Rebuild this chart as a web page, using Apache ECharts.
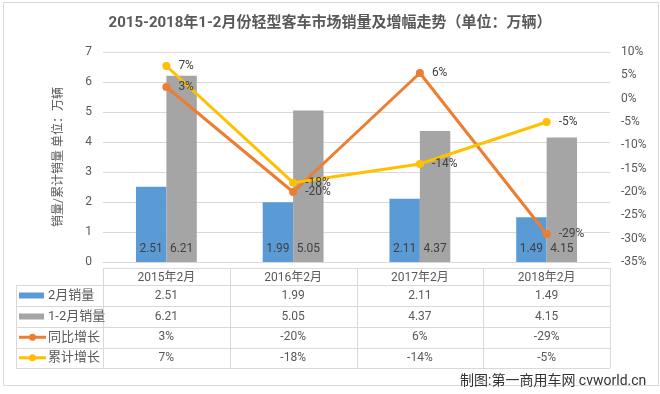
<!DOCTYPE html>
<html><head><meta charset="utf-8">
<script src="https://cdn.jsdelivr.net/npm/echarts@6/dist/echarts.min.js"></script>
<style>html,body{margin:0;padding:0;background:#fff}#c{width:660px;height:394px}</style>
</head><body><div id="c"></div>
<script>
const titleText = '2015-2018年1-2月份轻型客车市场销量及增幅走势（单位：万辆）';
const categories = ['2015年2月', '2016年2月', '2017年2月', '2018年2月'];
const febSales = [2.51, 1.99, 2.11, 1.49];
const cumSales = [6.21, 5.05, 4.37, 4.15];
const yoyGrowth = [2.5, -20, 5.5, -29];
const cumGrowth = [7, -18, -14, -5];
const seriesNames = ['2月销量', '1-2月销量', '同比增长', '累计增长'];
const leftAxisName = '销量/累计销量 单位：万辆';
const creditText = '制图:第一商用车网 cvworld.cn';

const FF = "Roboto, 'Noto Sans CJK SC', sans-serif";
const TXT = '#595959';
const C_BLUE = '#5B9BD5', C_GRAY = '#A5A5A5', C_ORANGE = '#ED7D31', C_YELLOW = '#FFC000';
const LINE = '#D9D9D9';

const G_L = 103, G_R = 610, G_T = 52, G_B = 262;
const colW = (G_R - G_L) / categories.length;
const rowY = [268, 285, 306, 327, 347.5, 368];
const TL = 16;

const pct = v => Math.round(v) + '%';
const rows = [
  {name: seriesNames[0], vals: febSales.map(v => v.toFixed(2)), type: 'bar', color: C_BLUE},
  {name: seriesNames[1], vals: cumSales.map(v => v.toFixed(2)), type: 'bar', color: C_GRAY},
  {name: seriesNames[2], vals: yoyGrowth.map(pct), type: 'line', color: C_ORANGE},
  {name: seriesNames[3], vals: cumGrowth.map(pct), type: 'line', color: C_YELLOW}
];

const graphics = [];
// chart border
graphics.push({type: 'rect', shape: {x: 3.5, y: 2.5, width: 655, height: 383}, style: {fill: null, stroke: LINE, lineWidth: 1}, z: -1});
// table lines
graphics.push({type: 'line', shape: {x1: G_L, y1: rowY[0] + 0.5, x2: G_R, y2: rowY[0] + 0.5}, style: {stroke: LINE, lineWidth: 1}});
for (let r = 1; r < rowY.length; r++) {
  graphics.push({type: 'line', shape: {x1: TL, y1: Math.round(rowY[r]) + 0.5, x2: G_R, y2: Math.round(rowY[r]) + 0.5}, style: {stroke: LINE, lineWidth: 1}});
}
graphics.push({type: 'line', shape: {x1: TL + 0.5, y1: rowY[1], x2: TL + 0.5, y2: rowY[5]}, style: {stroke: LINE, lineWidth: 1}});
for (let c = 0; c <= categories.length; c++) {
  const x = Math.round(G_L + c * colW) + 0.5;
  graphics.push({type: 'line', shape: {x1: x, y1: rowY[0], x2: x, y2: rowY[5]}, style: {stroke: LINE, lineWidth: 1}});
}
// header
categories.forEach((cat, i) => {
  graphics.push({type: 'text', x: G_L + (i + 0.5) * colW, y: (rowY[0] + rowY[1]) / 2 + 1,
    style: {text: cat, fill: TXT, font: '12px ' + FF, align: 'center', verticalAlign: 'middle'}});
});
// rows
rows.forEach((row, r) => {
  const yc = (rowY[r + 1] + rowY[r + 2]) / 2;
  if (row.type === 'bar') {
    graphics.push({type: 'rect', shape: {x: 19, y: yc - 3, width: 25, height: 6}, style: {fill: row.color}});
  } else {
    graphics.push({type: 'line', shape: {x1: 19, y1: yc, x2: 46, y2: yc}, style: {stroke: row.color, lineWidth: 3}});
    graphics.push({type: 'circle', shape: {cx: 32.5, cy: yc, r: 3.5}, style: {fill: row.color}});
  }
  graphics.push({type: 'text', x: 48, y: yc, style: {text: row.name, fill: TXT, font: '13px ' + FF, verticalAlign: 'middle'}});
  row.vals.forEach((v, i) => {
    graphics.push({type: 'text', x: G_L + (i + 0.5) * colW, y: yc, style: {text: v, fill: TXT, font: '12px ' + FF, align: 'center', verticalAlign: 'middle'}});
  });
});
graphics.push({type: 'text', x: 460, y: 381, style: {text: creditText, fill: '#333', font: '14px ' + FF, verticalAlign: 'middle'}});

const chart = echarts.init(document.getElementById('c'), null, {renderer: 'canvas'});
chart.setOption({
  animation: false,
  backgroundColor: '#fff',
  textStyle: {fontFamily: FF},
  title: {text: titleText, left: 'center', top: 11,
    textStyle: {fontSize: 15, fontWeight: 'bold', color: TXT, fontFamily: FF}},
  grid: {left: G_L, right: 660 - G_R, top: G_T, bottom: 394 - G_B},
  xAxis: {type: 'category', data: categories,
    axisLine: {show: true, lineStyle: {color: LINE}}, axisTick: {show: false}, axisLabel: {show: false}},
  yAxis: [
    {type: 'value', min: 0, max: 7, interval: 1, position: 'left',
      name: leftAxisName, nameLocation: 'middle', nameGap: 38, nameRotate: 90,
      nameTextStyle: {color: TXT, fontSize: 12, fontFamily: FF},
      axisLine: {show: false}, axisTick: {show: false},
      axisLabel: {color: TXT, fontSize: 12, margin: 11, fontFamily: FF},
      splitLine: {lineStyle: {color: LINE}}},
    {type: 'value', min: -35, max: 10, interval: 5, position: 'right',
      axisLine: {show: false}, axisTick: {show: false},
      axisLabel: {color: TXT, fontSize: 12, margin: 11, formatter: '{value}%', fontFamily: FF},
      splitLine: {show: false}}
  ],
  series: [
    {name: seriesNames[0], type: 'bar', data: febSales, yAxisIndex: 0, barGap: '0%', barCategoryGap: '52%',
      itemStyle: {color: C_BLUE},
      label: {show: true, position: 'insideBottom', distance: 7, color: '#404040', fontSize: 12, fontFamily: FF, formatter: p => p.value.toFixed(2)}},
    {name: seriesNames[1], type: 'bar', data: cumSales, yAxisIndex: 0, barGap: '0%', barCategoryGap: '52%',
      itemStyle: {color: C_GRAY},
      label: {show: true, position: 'insideBottom', distance: 7, color: '#404040', fontSize: 12, fontFamily: FF, formatter: p => p.value.toFixed(2)}},
    {name: seriesNames[2], type: 'line', data: yoyGrowth, yAxisIndex: 1, symbol: 'circle', symbolSize: 8,
      lineStyle: {color: C_ORANGE, width: 3}, itemStyle: {color: C_ORANGE},
      label: {show: true, position: 'right', distance: 8, color: '#404040', fontSize: 12, fontFamily: FF, formatter: p => pct(p.value)}},
    {name: seriesNames[3], type: 'line', data: cumGrowth, yAxisIndex: 1, symbol: 'circle', symbolSize: 8,
      lineStyle: {color: C_YELLOW, width: 3}, itemStyle: {color: C_YELLOW},
      label: {show: true, position: 'right', distance: 8, color: '#404040', fontSize: 12, fontFamily: FF, formatter: p => pct(p.value)}}
  ],
  graphic: graphics
});
</script></body></html>
